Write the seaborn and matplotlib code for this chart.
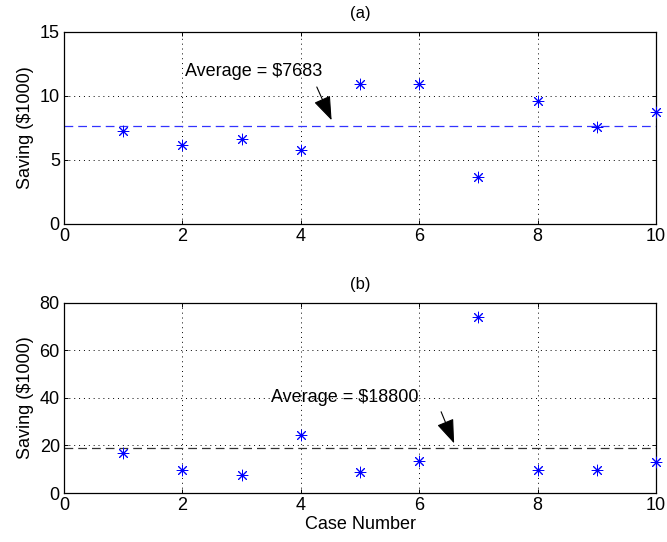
import matplotlib
matplotlib.use('Agg')
import matplotlib.pyplot as plt
import seaborn as sns
import pandas as pd

# Data.
case_numbers = [1, 2, 3, 4, 5, 6, 7, 8, 9, 10]
saving_a = [7.27, 6.17, 6.66, 5.78, 10.9, 10.94, 3.7, 9.6, 7.55, 8.75]
saving_b = [16.7, 9.7, 7.7, 24.5, 9.0, 13.5, 74.0, 9.7, 9.7, 12.9]
average_a = 7.683
average_b = 18.8
titles = ["(a)", "(b)"]
avg_labels = ["Average = $7683", "Average = $18800"]
y_limits = [(0, 15), (0, 80)]
y_ticks = [[0, 5, 10, 15], [0, 20, 40, 60, 80]]
avg_colors = ["#3333ff", "#333333"]

sns.set_style("ticks")
plt.rcParams['font.family'] = ['Liberation Sans', 'DejaVu Sans']
plt.rcParams['text.color'] = 'black'
plt.rcParams['axes.labelcolor'] = 'black'
plt.rcParams['xtick.color'] = 'black'
plt.rcParams['ytick.color'] = 'black'

fig = plt.figure(figsize=(6.67, 5.42), dpi=100)
ax_a = fig.add_axes([0.096, 0.587, 0.8875, 0.354])
ax_b = fig.add_axes([0.096, 0.0904, 0.8875, 0.3506])

panels = [
    (ax_a, saving_a, average_a, (2.04, 11.9), (4.27, 10.7), (4.52, 8.1)),
    (ax_b, saving_b, average_b, (3.49, 40.4), (6.37, 34.2), (6.59, 20.9)),
]

for i, (ax, values, avg, text_pos, tail, head) in enumerate(panels):
    df = pd.DataFrame({"case": case_numbers, "saving": values})
    sns.scatterplot(data=df, x="case", y="saving", marker=(8, 2, 0),
                    color="blue", s=60, linewidth=0.7, ax=ax, zorder=3,
                    clip_on=False)
    ax.axhline(avg, ls=(0, (7, 4)), c=avg_colors[i], lw=0.9, zorder=2)

    ax.annotate("", xy=head, xytext=tail,
                arrowprops=dict(arrowstyle="-|>,head_length=1.5,head_width=0.55",
                                color="black", lw=0.8, shrinkA=0, shrinkB=0))
    ax.text(text_pos[0], text_pos[1], avg_labels[i], fontsize=13,
            ha="left", va="center", color="black")

    ax.set_xlim(0, 10)
    ax.set_ylim(*y_limits[i])
    ax.set_xticks([0, 2, 4, 6, 8, 10])
    ax.set_yticks(y_ticks[i])
    ax.grid(True, ls=(0, (1, 4)), c="black", lw=0.7)
    ax.tick_params(direction="in", top=True, right=True, labelsize=13,
                   length=3, width=0.7, pad=3, colors="black")
    for spine in ax.spines.values():
        spine.set_linewidth(0.9)
        spine.set_color("black")
    ax.set_title(titles[i], fontsize=12, pad=10, color="black")
    ax.set_ylabel("Saving ($1000)", fontsize=13, labelpad=4, color="black")
    ax.set_xlabel("")

ax_b.set_xlabel("Case Number", fontsize=13, labelpad=1, color="black")

fig.savefig("out.png", dpi=100)
plt.close()
